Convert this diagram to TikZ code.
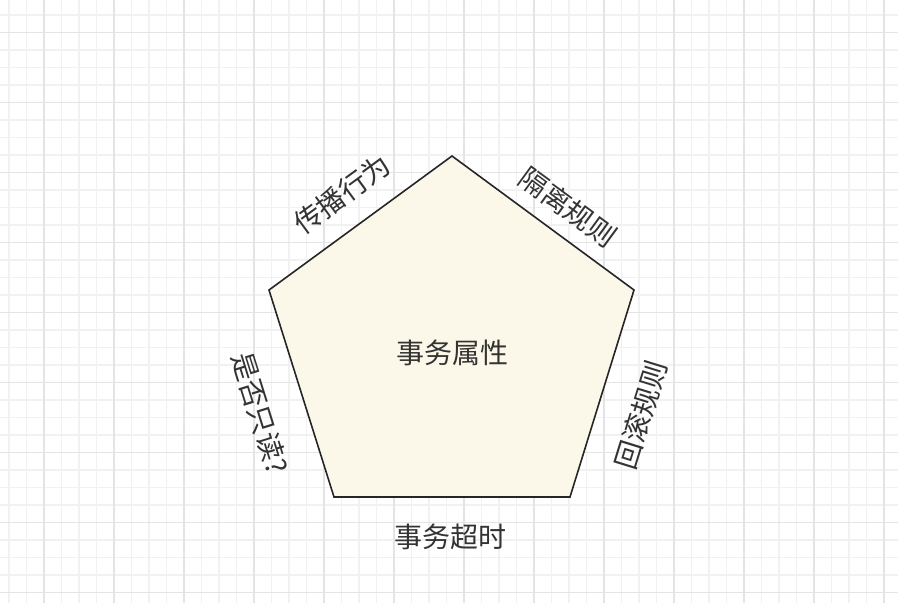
\documentclass[tikz,border=0pt]{standalone}
\usepackage{fontspec}
\newfontfamily\cjk{Noto Sans CJK SC}
\definecolor{gridminor}{HTML}{F1F1F1}
\definecolor{gridmajor}{HTML}{E4E4E4}
\definecolor{penfill}{HTML}{FCF8E9}
\definecolor{pentext}{HTML}{333333}
\tikzset{lbl/.style={text=pentext, font=\cjk\fontsize{28}{28}\selectfont, inner sep=0pt}}

\begin{document}
\begin{tikzpicture}[x=1pt,y=-1pt]
		\useasboundingbox (0,0) rectangle (898,603);
		\fill[white] (0,0) rectangle (898,603);

		% draw grid
		\foreach \x in {9,26.5,...,898} \draw[gridminor, line width=1.5pt] (\x,0) -- (\x,603);
		\foreach \y in {15,32.5,...,603} \draw[gridminor, line width=1.5pt] (0,\y) -- (898,\y);
		\foreach \x in {44,114,...,898} \draw[gridmajor, line width=1.5pt] (\x,0) -- (\x,603);
		\foreach \y in {32.5,102.5,...,603} \draw[gridmajor, line width=1.5pt] (0,\y) -- (898,\y);

		% pentagon corners
		\coordinate (t) at (452,156);
		\coordinate (r) at (634,290);
		\coordinate (br) at (570,497);
		\coordinate (bl) at (334,497);
		\coordinate (l) at (269,290);

		\filldraw[fill=penfill, draw=black!85, line width=1.6pt, line join=miter] (t) -- (r) -- (br) -- (bl) -- (l) -- cycle;

		% labels
		\node[lbl] at (452,353) (attr) {事务属性};
		\node[lbl, rotate=36.2] at (342,194) (prop) {传播行为};
		\node[lbl, rotate=-36.2] at (568,207) (iso) {隔离规则};
		\node[lbl, rotate=72.8] at (641,415) (roll) {回滚规则};
		\node[lbl] at (450,537) (tout) {事务超时};
		\node[lbl, rotate=-72.6] at (260,413) (ro) {是否只读?};
		\end{tikzpicture}
\end{document}
